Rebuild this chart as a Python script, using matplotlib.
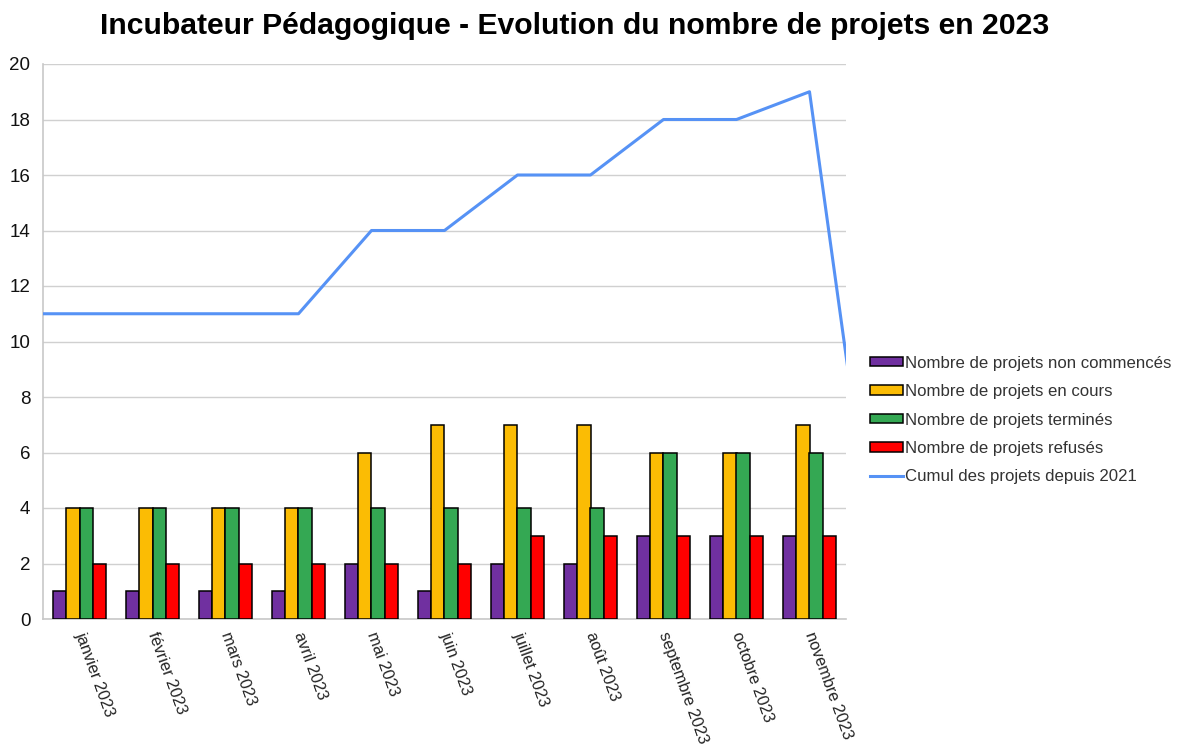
import numpy as np
import matplotlib.pyplot as plt

plt.rcParams['font.family'] = ['Liberation Sans', 'DejaVu Sans']

# données
mois = ['janvier 2023', 'février 2023', 'mars 2023', 'avril 2023', 'mai 2023',
        'juin 2023', 'juillet 2023', 'août 2023', 'septembre 2023',
        'octobre 2023', 'novembre 2023']
non_commences = [1, 1, 1, 1, 2, 1, 2, 2, 3, 3, 3]
en_cours = [4, 4, 4, 4, 6, 7, 7, 7, 6, 6, 7]
termines = [4, 4, 4, 4, 4, 4, 4, 4, 6, 6, 6]
refuses = [2, 2, 2, 2, 2, 2, 3, 3, 3, 3, 3]
# cumul : décembre 2022 -> décembre 2023 (les extrémités sortent du graphique)
cumul = [11, 11, 11, 11, 11, 14, 14, 16, 16, 18, 18, 19, 0]

series = [
    (non_commences, '#7030A0', 'Nombre de projets non commencés'),
    (en_cours, '#FBBC04', 'Nombre de projets en cours'),
    (termines, '#34A853', 'Nombre de projets terminés'),
    (refuses, '#FF0000', 'Nombre de projets refusés'),
]

fig = plt.figure(figsize=(11.82, 7.47), dpi=100)
ax = fig.add_axes([43 / 1182, 1 - 619 / 747, 803 / 1182, 555 / 747])

x = np.arange(len(mois))
w = 0.182
for i, (vals, col, lab) in enumerate(series):
    ax.bar(x + (i - 1.5) * w, vals, w, color=col, edgecolor='black',
           linewidth=1.1, label=lab, zorder=3)

xl = np.arange(len(cumul)) - 1
ax.plot(xl, cumul, color='#5692F5', lw=2.2, label='Cumul des projets depuis 2021',
        zorder=4, clip_on=True)

ax.set_xlim(-0.5, len(mois) - 0.5)
ax.set_ylim(0, 20)
ax.set_yticks(range(0, 21, 2))
ax.tick_params(axis='y', labelsize=13.5, length=0, pad=9, labelcolor='#111111')
ax.tick_params(axis='x', length=0, pad=10)
ax.set_xticks(x)
ax.set_xticklabels(mois, rotation=-70, rotation_mode='anchor', ha='left',
                   va='center', fontsize=11.7, color='#222222')
ax.yaxis.grid(True, color='#D0D0D0', lw=1, zorder=0)
for s in ['top', 'right']:
    ax.spines[s].set_visible(False)
ax.spines['left'].set_color('#C8C8C8')
ax.spines['bottom'].set_color('#C8C8C8')
ax.spines['left'].set_linewidth(1.2)
ax.spines['bottom'].set_linewidth(1.2)

fig.text(575 / 1182, 1 - 26 / 747,
         'Incubateur Pédagogique - Evolution du nombre de projets en 2023',
         ha='center', va='center', fontsize=21.7, fontweight='bold')

handles, labels = ax.get_legend_handles_labels()
order = [1, 2, 3, 4, 0]
leg = ax.legend([handles[k] for k in order], [labels[k] for k in order],
                loc='center left', bbox_to_anchor=(870 / 1182, 1 - 420 / 747),
                bbox_transform=fig.transFigure, frameon=False, fontsize=12.1,
                handlelength=1.95, handleheight=0.48, handletextpad=0.15,
                labelspacing=0.8, borderaxespad=0, borderpad=0)
for t in leg.get_texts():
    t.set_color('#333333')

plt.savefig('out.png', dpi=100)
